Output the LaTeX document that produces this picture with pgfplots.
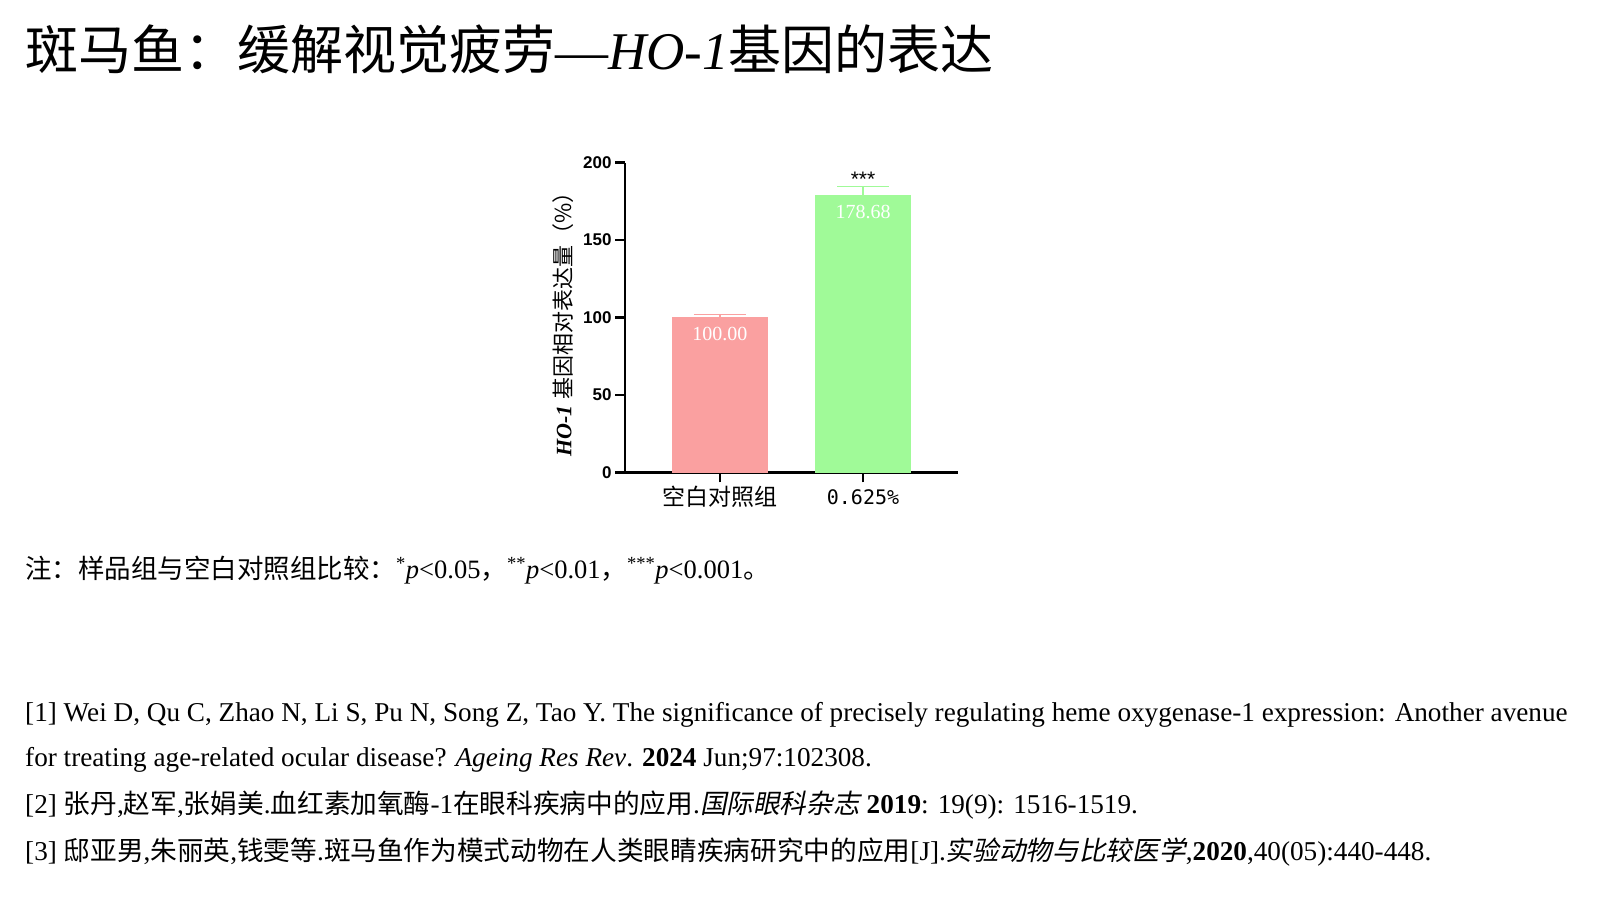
\documentclass[border=0pt]{standalone}
\usepackage{fontspec}
\setmainfont{Liberation Serif}
\setsansfont{Liberation Sans}
\newfontfamily\cjk{Noto Sans CJK SC}
\newfontfamily\cjkr[Scale=0.98]{Noto Sans CJK SC}
\newfontfamily\cjkit[FakeSlant=0.2,Scale=0.98]{Noto Sans CJK SC}
\newfontfamily\monof{DejaVu Sans Mono}
\usepackage{pgfplots}
\pgfplotsset{compat=1.18}
\definecolor{cpink}{RGB}{250,160,160}
\definecolor{cgreen}{RGB}{160,250,152}
\begin{document}
\begin{tikzpicture}
\fill[white] (0pt,0pt) rectangle (1600pt,900pt);
\path[use as bounding box] (0pt,0pt) rectangle (1600pt,900pt);
% title
\node[anchor=base west, inner sep=0pt] at (25pt,830pt) {\fontsize{53}{60}\selectfont{\cjk 斑马鱼：缓解视觉疲劳}—\textit{HO-1}{\cjk 基因的表达}};
% chart
\begin{axis}[
  at={(625pt,427.7pt)}, anchor=south west,
  scale only axis, width=333pt, height=309.6pt,
  xmin=-0.664, xmax=1.664, ymin=0, ymax=200,
  axis x line*=bottom, axis y line*=left,
  axis line style={line width=2.5pt, black},
  every tick/.style={line width=2.5pt, black},
  major tick length=10pt, tick align=outside,
  xtick={0,1}, xticklabels={{\cjk 空白对照组},{\raisebox{-4pt}[\height][0pt]{\fontsize{20}{20}\selectfont\monof 0.625\%}}},
  xticklabel style={font=\fontsize{23}{23}\selectfont},
  ytick={0,50,100,150,200},
  yticklabel style={font=\fontsize{17}{17}\selectfont\sffamily\bfseries},
  /pgf/number format/assume math mode=true,
  clip=false,
]
\addplot[ybar, bar width=95pt, bar shift=0pt, fill=cpink, draw=cpink,
  error bars/.cd, y dir=plus, y explicit, error mark=|,
  error bar style={draw=cpink, line width=1.3pt},
  error mark options={draw=cpink, line width=1.3pt, mark size=26pt}]
  coordinates {(0,100) +- (0,2.1)};
\addplot[ybar, bar width=95pt, bar shift=0pt, fill=cgreen, draw=cgreen,
  error bars/.cd, y dir=plus, y explicit, error mark=|,
  error bar style={draw=cgreen, line width=1.3pt},
  error mark options={draw=cgreen, line width=1.3pt, mark size=26pt}]
  coordinates {(1,178.68) +- (0,6.1)};
\node[text=white, font=\fontsize{20}{20}\selectfont] at (axis cs:0,100) [yshift=-16pt] {100.00};
\node[text=white, font=\fontsize{20}{20}\selectfont] at (axis cs:1,178.68) [yshift=-16pt] {178.68};
\node[font=\fontsize{21}{21}\selectfont\sffamily] at (axis cs:1,189) {***};
\end{axis}
% y label
\node[rotate=90, anchor=center, inner sep=0pt] at (563pt,581pt) {\fontsize{22}{22}\selectfont\textbf{\textit{HO-1}} {\cjk 基因相对表达量（\%）}};
% note
\node[anchor=base west, inner sep=0pt] at (25pt,321pt) {\fontsize{26.5}{30}\selectfont{\cjk 注：样品组与空白对照组比较：}\textsuperscript{*}\textit{p}<0.05{\cjk ，}\textsuperscript{**}\textit{p}<0.01{\cjk ，}\textsuperscript{***}\textit{p}<0.001{\cjk 。}};
% references
\begin{scope}[every node/.style={anchor=base west, inner sep=0pt, font=\fontsize{27.2}{30}\selectfont}]
\node at (25pt,179pt) {[1] Wei D, Qu C, Zhao N, Li S, Pu N, Song Z, Tao Y. The significance of precisely regulating heme oxygenase-1 expression: Another avenue};
\node at (25pt,134pt) {for treating age-related ocular disease? \textit{Ageing Res Rev}. \textbf{2024} Jun;97:102308.};
\node at (25pt,87pt) {[2] {\cjkr 张丹},{\cjkr 赵军},{\cjkr 张娟美}.{\cjkr 血红素加氧酶}-1{\cjkr 在眼科疾病中的应用}.{\cjkit 国际眼科杂志} \textbf{2019}: 19(9): 1516-1519.};
\node at (25pt,40pt) {[3] {\cjkr 邸亚男},{\cjkr 朱丽英},{\cjkr 钱雯等}.{\cjkr 斑马鱼作为模式动物在人类眼睛疾病研究中的应用}[J].{\cjkit 实验动物与比较医学},\textbf{2020},40(05):440-448.};
\end{scope}
\end{tikzpicture}
\end{document}
